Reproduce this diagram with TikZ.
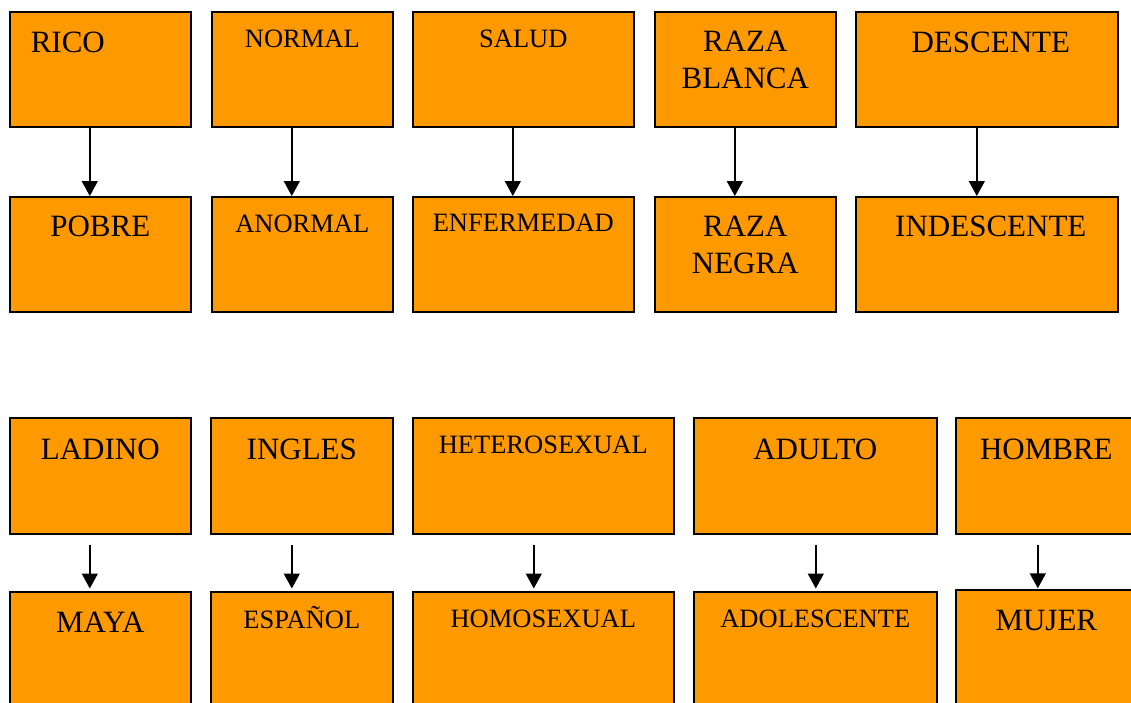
\documentclass[tikz,border=0pt]{standalone}
\usepackage{fontspec}
\setmainfont{Liberation Serif}
\usetikzlibrary{arrows.meta}
\definecolor{boxorange}{RGB}{255,153,0}
\newcommand\bigtxt{\fontsize{31}{37}\selectfont}
\newcommand\smalltxt{\fontsize{26.5}{31}\selectfont}
\begin{document}
\begin{tikzpicture}[x=1pt,y=-1pt,
  box/.style={draw=black, line width=1.6pt, fill=boxorange, anchor=north west, inner sep=0pt, align=center},
  hd/.style 2 args={text height=#1, text depth=#2},
  big/.style={font=\bigtxt},
  small/.style={font=\smalltxt},
  arr/.style={line width=1.5pt, -{Triangle[width=16pt,length=15pt]}}]
\path[use as bounding box, clip] (0,0) rectangle (1131,702);
% row 1
\node[box, big, hd={40.5pt}{74.5pt}, minimum width=181pt, text width=139pt, inner xsep=21pt, align=left] (r1) at (9,11) {RICO};
\node[box, small, hd={35.7pt}{79.3pt}, minimum width=181pt] (n1) at (211,11) {NORMAL};
\node[box, small, hd={35.7pt}{79.3pt}, minimum width=221pt] (s1) at (412,11) {SALUD};
\node[box, big, hd={40pt}{75pt}, minimum width=181pt] (b1) at (654,11) {\begin{tabular}[t]{@{}c@{}}RAZA\\BLANCA\end{tabular}};
\node[box, big, hd={40.5pt}{74.5pt}, minimum width=262pt] (d1) at (855,11) {\hspace*{8pt}DESCENTE};
% row 2
\node[box, big, hd={40pt}{75pt}, minimum width=181pt] (p2) at (9,196) {POBRE};
\node[box, small, hd={35.7pt}{79.3pt}, minimum width=181pt] (a2) at (211,196) {ANORMAL};
\node[box, small, hd={34.5pt}{80.5pt}, minimum width=221pt] (e2) at (412,196) {ENFERMEDAD};
\node[box, big, hd={39.5pt}{75.5pt}, minimum width=181pt] (g2) at (654,196) {\begin{tabular}[t]{@{}c@{}}RAZA\\NEGRA\end{tabular}};
\node[box, big, hd={40pt}{75pt}, minimum width=262pt] (i2) at (855,196) {\hspace*{8pt}INDESCENTE};
% row 3
\node[box, big, hd={41.5pt}{74.5pt}, minimum width=181pt] (l3) at (9,417) {LADINO};
\node[box, big, hd={41.5pt}{74.5pt}, minimum width=182pt] (g3) at (210,417) {INGLES};
\node[box, small, hd={35.5pt}{80.5pt}, minimum width=261pt] (h3) at (412,417) {HETEROSEXUAL};
\node[box, big, hd={41.5pt}{74.5pt}, minimum width=243pt] (a3) at (693,417) {ADULTO};
\node[box, big, hd={41.5pt}{74.5pt}, minimum width=181pt] (m3) at (955,417) {HOMBRE};
% row 4
\node[box, big, hd={40.7pt}{74.3pt}, minimum width=181pt] (l4) at (9,591) {MAYA};
\node[box, small, hd={36.7pt}{78.3pt}, minimum width=182pt] (g4) at (210,591) {ESPAÑOL};
\node[box, small, hd={36pt}{79pt}, minimum width=261pt] (h4) at (412,591) {HOMOSEXUAL};
\node[box, small, hd={35.7pt}{79.3pt}, minimum width=243pt] (a4) at (693,591) {ADOLESCENTE};
\node[box, big, hd={40.3pt}{74.7pt}, minimum width=181pt] (m4) at (955,589) {MUJER};
% arrows top
\draw[arr] ([xshift=-10.5pt]r1.south) -- ([xshift=-10.5pt]p2.north);
\draw[arr] ([xshift=-10.5pt]n1.south) -- ([xshift=-10.5pt]a2.north);
\draw[arr] ([xshift=-10.5pt]s1.south) -- ([xshift=-10.5pt]e2.north);
\draw[arr] ([xshift=-10.5pt]b1.south) -- ([xshift=-10.5pt]g2.north);
\draw[arr] ([xshift=-10pt]d1.south) -- ([xshift=-10pt]i2.north);
% arrows bottom
\draw[arr, shorten <=10pt, shorten >=2.5pt] ([xshift=-10.5pt]l3.south) -- ([xshift=-10.5pt]l4.north);
\draw[arr, shorten <=10pt, shorten >=2.5pt] ([xshift=-10pt]g3.south) -- ([xshift=-10pt]g4.north);
\draw[arr, shorten <=10pt, shorten >=2.5pt] ([xshift=-9.5pt]h3.south) -- ([xshift=-9.5pt]h4.north);
\draw[arr, shorten <=10pt, shorten >=2.5pt] ([xshift=0.5pt]a3.south) -- ([xshift=0.5pt]a4.north);
\draw[arr, shorten <=10pt, shorten >=0.7pt] ([xshift=-8.5pt]m3.south) -- ([xshift=-8.5pt]m4.north);
\end{tikzpicture}
\end{document}
